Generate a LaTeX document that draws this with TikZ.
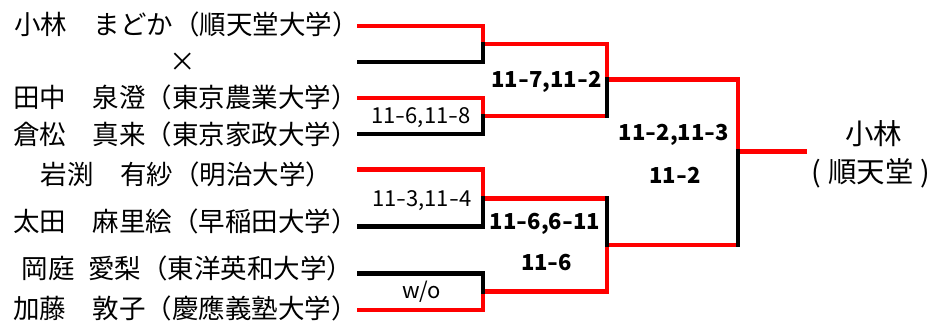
\documentclass[tikz,border=0pt]{standalone}
\usepackage{fontspec}
\setmainfont{Noto Sans CJK JP}
\usepackage{graphicx}
\newcommand\hy{\scalebox{1.3}[1]{-}}
\definecolor{wred}{RGB}{255,0,0}
\tikzset{
  bline/.style={line width=4.6pt, line cap=rect, line join=miter},
  win/.style={bline, draw=wred},
  lose/.style={bline, draw=black},
  pname/.style={font=\fontsize{26.5}{31}\selectfont, inner sep=0pt, anchor=base},
  cname/.style={font=\fontsize{28.5}{32}\selectfont, inner sep=0pt, anchor=base},
  score/.style={font=\fontsize{22}{26}\selectfont, inner sep=0pt, anchor=base},
  bscore/.style={score, font=\fontsize{22}{26}\selectfont\bfseries}
}
\begin{document}
\begin{tikzpicture}[x=1pt,y=-1pt]
\useasboundingbox (0,0) rectangle (932,323);
% names
\node[pname] (n1) at (186.5,35) {小林　まどか（順天堂大学）};
\node[pname, anchor=center] (nx) at (183,62) {×};
\node[pname] (n2) at (185.5,108) {田中　泉澄（東京農業大学）};
\node[pname] (n3) at (185.5,144.7) {倉松　真来（東京家政大学）};
\node[pname] (n4) at (186.5,184.7) {岩渕　有紗（明治大学）};
\node[pname] (n5) at (185.5,231.3) {太田　麻里絵（早稲田大学）};
\node[pname] (n6) at (187.5,278) {岡庭\hspace{0.5em}愛梨（東洋英和大学）};
\node[pname] (n7) at (185.5,318) {加藤　敦子（慶應義塾大学）};
\node[cname] (c1n) at (873.5,144.7) {小林};
\node[cname] (c2n) at (871,183) {(\hspace{0.25em}順天堂\hspace{0.25em})};
% bracket points
\coordinate (a1) at (359,26);   \coordinate (a2) at (359,62);
\coordinate (b1) at (359,98);   \coordinate (b2) at (359,134);
\coordinate (c1) at (359,169.3);\coordinate (c2) at (359,226.7);
\coordinate (d1) at (359,273.3);\coordinate (d2) at (359,310);
\coordinate (ja) at (483,44);   \coordinate (jb) at (483,116);
\coordinate (jc) at (483,198.5);\coordinate (jd) at (483,291.7);
\coordinate (ka) at (607,79.5); \coordinate (kb) at (607,245);
\coordinate (fm) at (738,151.7);
\coordinate (w) at (804.5,151.7);
% winners (red)
\draw[win] (a1) -| (ja) -| (ka) -| (fm) -- (w);
\draw[win] (b1) -| (jb) -- (jb -| ka);
\draw[win] (c1) -| (jc) -- (jc -| kb);
\draw[win] (d2) -| (jd) -| (kb) -- (kb -| fm);
% losers (black)
\draw[lose] (a2) -| (ja);
\draw[lose] (b2) -| (jb);
\draw[lose] (jb -| ka) -- (ka);
\draw[lose] (c2) -| (jc);
\draw[lose] (jc -| kb) -- (kb);
\draw[lose] (d1) -| (jd);
\draw[lose] (kb -| fm) -- (fm);
% scores
\node[bscore] (s1) at (546.5,87.3) {11\hy7,11\hy2};
\node[score]  (s2) at (421,123.3) {11\hy6,11\hy8};
\node[score]  (s3) at (421.7,206.7) {11\hy3,11\hy4};
\node[score]  (s4) at (421.7,298.3) {w/o};
\node[bscore] (s5) at (545,230) {11\hy6,6\hy11};
\node[bscore] (s6) at (546.7,270) {11\hy6};
\node[bscore] (s7) at (674,141) {11\hy2,11\hy3};
\node[bscore] (s8) at (675,183.3) {11\hy2};
\end{tikzpicture}
\end{document}
